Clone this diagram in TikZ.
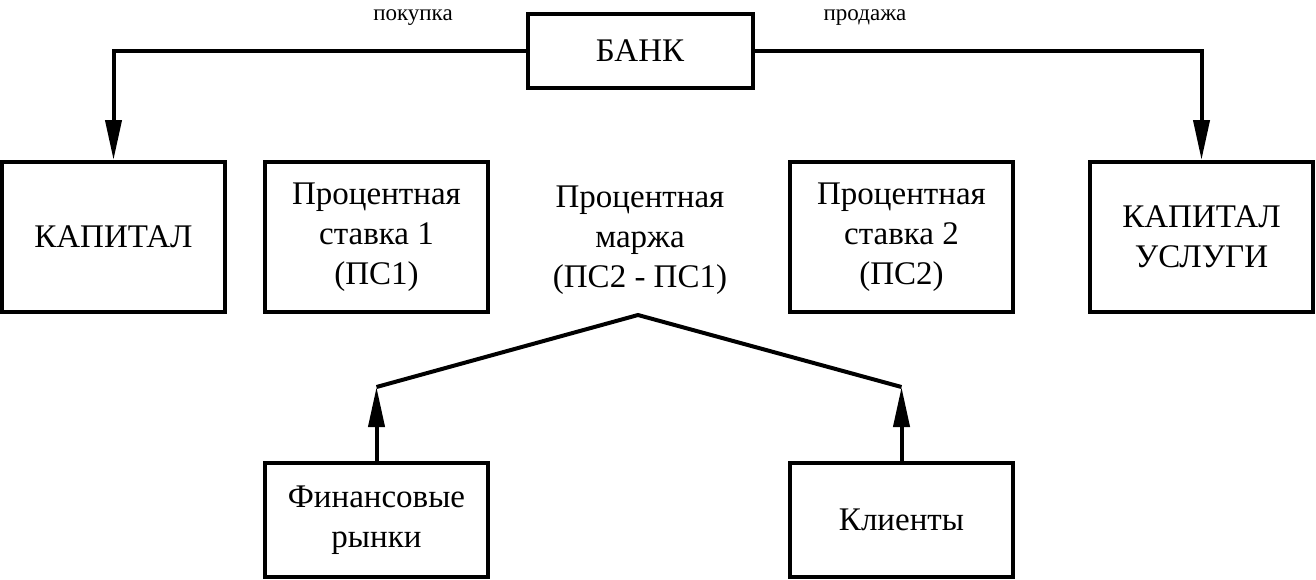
\documentclass[tikz,border=0pt]{standalone}
\usepackage{fontspec}
\setmainfont{Liberation Serif}
\usetikzlibrary{arrows.meta}

\tikzset{
  box/.style={draw, line width=4, minimum width=223, minimum height=150,
    align=center, font=\fontsize{33}{40}\selectfont},
  plain/.style={align=center, font=\fontsize{33}{40}\selectfont},
  small/.style={font=\fontsize{23}{28}\selectfont, anchor=base, inner sep=1},
  arrow/.style={line width=4, -{Triangle[length=40, width=16]}},
}

\begin{document}
\begin{tikzpicture}[x=1pt, y=-1pt]
  \useasboundingbox (0,0) rectangle (1316,579);
  \node[box, minimum width=225, minimum height=74] (bank) at (640,51) {БАНК};
  \node[box] (kap) at (113.5,237) {КАПИТАЛ};
  \node[box] (ps1) at (376.5,237) {Процентная\\ставка 1\\(ПС1)};
  \node[plain] (marzha) at (640,240) {Процентная\\маржа\\(ПС2 - ПС1)};
  \node[box] (ps2) at (901.5,237) {Процентная\\ставка 2\\(ПС2)};
  \node[box] (usl) at (1201.5,237) {КАПИТАЛ\\УСЛУГИ};
  \node[box, minimum height=114] (fin) at (376.5,520) {Финансовые\\рынки};
  \node[box, minimum height=114] (kli) at (901.5,520) {Клиенты};
  \node[small] (pok) at (413,20) {покупка};
  \node[small] (prod) at (865,20) {продажа};
  % margin lines
  \coordinate (apex) at (638,315);
  \coordinate (left) at (376.5,387);
  \coordinate (right) at (901.5,387);
  \draw[arrow] (bank.west) -| (kap.north);
  \draw[arrow] (bank.east) -| (usl.north);
  \draw[line width=4] (left) -- (apex) -- (right);
  \draw[arrow] (fin.north) -- (left);
  \draw[arrow] (kli.north) -- (right);
\end{tikzpicture}
\end{document}
